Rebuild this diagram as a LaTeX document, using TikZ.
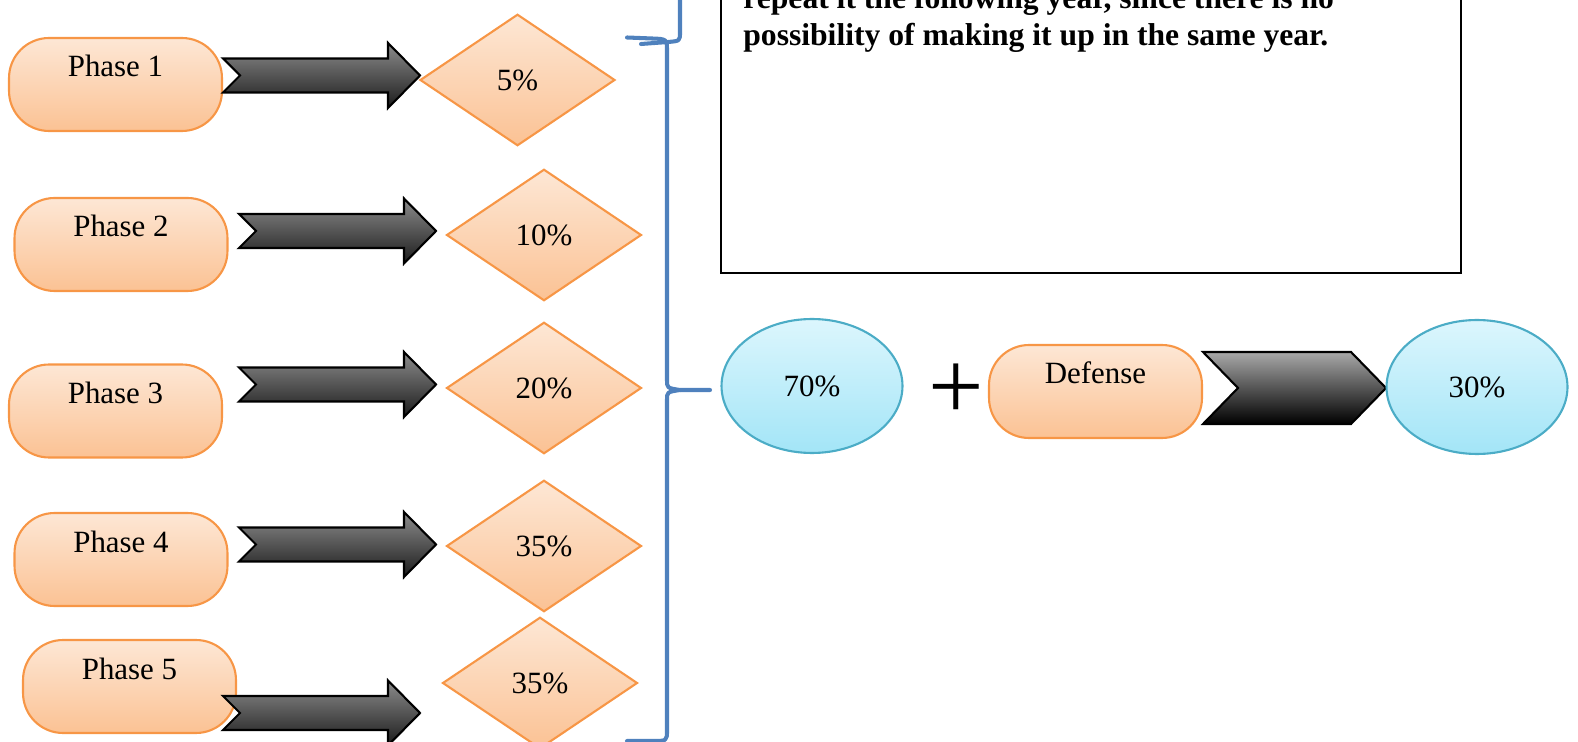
\documentclass[tikz,border=0pt]{standalone}
\usepackage{fontspec}
\setmainfont{Liberation Serif}
\usetikzlibrary{shapes.geometric}

\definecolor{peachtop}{HTML}{FDE7D5}
\definecolor{peachbot}{HTML}{FBC294}
\definecolor{peachline}{HTML}{F79646}
\definecolor{skytop}{HTML}{DCF6FD}
\definecolor{skybot}{HTML}{A3E5F7}
\definecolor{skyline}{HTML}{4BACC6}
\definecolor{bracecol}{HTML}{4F81BD}
\definecolor{arrowtop}{HTML}{8C8C8C}
\definecolor{arrowbot}{HTML}{1C1C1C}

% block arrow with notched tail, drawn from its tail point
\newcommand{\blockarrow}[1]{%
  \shadedraw[blockfill] (#1) ++(0,-17) -- ++(165,0) -- ++(0,-15.5) -- ++(32,32.5)
    -- ++(-32,32.5) -- ++(0,-15.5) -- ++(-165,0) -- ++(17,-17) -- cycle;}

\begin{document}
\begin{tikzpicture}[x=0.02cm, y=-0.02cm,
    font=\fontsize{17.6}{21}\selectfont,
    pill/.style={draw=peachline, line width=1.2pt, top color=peachtop, bottom color=peachbot,
        rounded corners=0.8cm, minimum width=4.26cm, minimum height=1.86cm, inner sep=0pt,
        text height=0.44cm, text depth=0.74cm},
    rate/.style={diamond, draw=peachline, line width=1.2pt, top color=peachtop, bottom color=peachbot,
        minimum width=3.9cm, minimum height=2.63cm, inner sep=0pt},
    share/.style={ellipse, draw=skyline, line width=1.2pt, top color=skytop, bottom color=skybot,
        minimum width=3.62cm, minimum height=2.68cm, inner sep=0pt},
    blockfill/.style={draw=black, line width=1.2pt, top color=arrowtop, bottom color=arrowbot},
    brace/.style={draw=bracecol, line width=2.3pt, line cap=round, line join=round}]

    \useasboundingbox (0,0) rectangle (1578,742);
    \clip (0,0) rectangle (1578,742);

    % phases
    \node[pill] (p1) at (115.5,84.5) {Phase 1};
    \node[pill] (p2) at (121,244.5) {Phase 2};
    \node[pill] (p3) at (115.5,411) {Phase 3};
    \node[pill] (p4) at (121,559.5) {Phase 4};
    \node[pill] (p5) at (129.5,686.5) {Phase 5};

    % weights
    \node[rate] (d1) at (517.5,80) {5\%};
    \node[rate] (d2) at (544,235) {10\%};
    \node[rate] (d3) at (544,388) {20\%};
    \node[rate] (d4) at (544,546) {35\%};
    \node[rate] (d5) at (540,683) {35\%};

    % arrows
    \coordinate (a1) at (223,75.5);
    \coordinate (a2) at (239,231);
    \coordinate (a3) at (239,384.5);
    \coordinate (a4) at (239,544.5);
    \coordinate (a5) at (223,713);
    \blockarrow{a1}
    \blockarrow{a2}
    \blockarrow{a3}
    \blockarrow{a4}
    \blockarrow{a5}

    % brace
    \draw[brace] (680,-5) -- (680,32) .. controls (680,41) .. (668,42) -- (641,44);
    \draw[brace] (627,37.5) -- (652,38.5) .. controls (667,39) .. (667,52) -- (667,380)
        .. controls (667,388) .. (680,390) -- (710,390);
    \draw[brace] (680,390) .. controls (667,392) .. (667,400) -- (667,730)
        .. controls (667,741) .. (652,741) -- (627,741);

    % note box
    \draw[line width=1.5pt] (721,-20) rectangle (1461,273);
    \node[anchor=base west, align=left, inner sep=0pt,
        font=\fontsize{18}{21.5}\selectfont\bfseries] (note) at (743,46)
        {repeat it the following year, since there is no\\
         possibility of making it up in the same year.};

    % final grade
    \node[share] (tot) at (812,386) {70\%};
    \node (plus) at (956,391.5) {\fontsize{56}{56}\selectfont +};
    \node[pill] (def) at (1095.5,391.5) {Defense};
    \shadedraw[draw=black, line width=1.2pt, top color=arrowtop!75!white, bottom color=black]
        (1203,352) -- (1351,352) -- (1386,388) -- (1351,424) -- (1203,424) -- (1238,388) -- cycle;
    \node[share] (oral) at (1477,387) {30\%};

\end{tikzpicture}
\end{document}
